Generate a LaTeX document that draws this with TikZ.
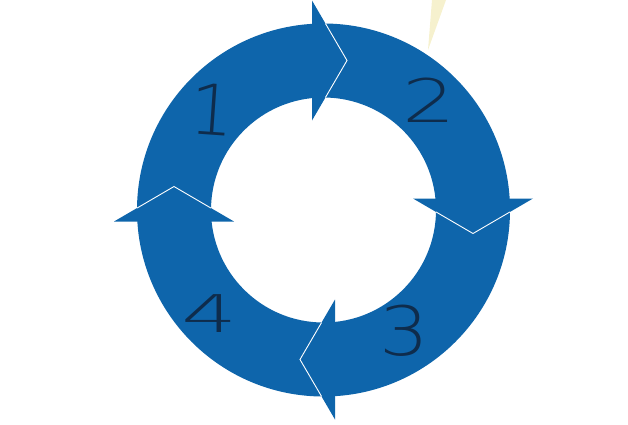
\documentclass[tikz,border=0pt]{standalone}
\usepackage{fontspec}
\newfontfamily\handfont{DejaVuSans-ExtraLight.ttf}
\definecolor{ringblue}{RGB}{14,101,171}
\definecolor{digitnavy}{RGB}{14,44,76}
\definecolor{paleyellow}{RGB}{246,241,206}
\begin{document}
\begin{tikzpicture}[x=1pt,y=-1pt,
  digit/.style={text=digitnavy, inner sep=0pt, anchor=base, font=\handfont\fontsize{#1}{#1}\selectfont},
  headfill/.style={fill=ringblue},
  seam/.style={draw=white, line width=0.9pt, line join=miter}]
\useasboundingbox (0,0) rectangle (628,424);
\fill[paleyellow] (432,0) -- (446,0) -- (428,50) -- cycle;
\coordinate (C) at (323.5,210);
\fill[ringblue, even odd rule] (C) circle (186.5) (C) circle (112.5);
\foreach \ang in {0,-90,-180,90} {
  \begin{scope}[shift={(323.5,210)}, x=1pt, y=1pt, rotate=\ang]
    \fill[headfill] (-11.5,209.5) -- (23.5,149.5) -- (-11.5,89.5) -- cycle;
    \draw[seam] (1.92,186.49) -- (23.5,149.5) -- (1.91,112.48);
  \end{scope}
}
\node[digit=70, rotate=-4] (d1) at (211,135) {1};
\node[digit=60, xscale=1.4] (d2) at (429,122) {2};
\node[digit=68, xscale=1.15] (d3) at (404,355) {3};
\node[digit=52, xscale=1.7] (d4) at (210,332) {4};
\end{tikzpicture}
\end{document}
